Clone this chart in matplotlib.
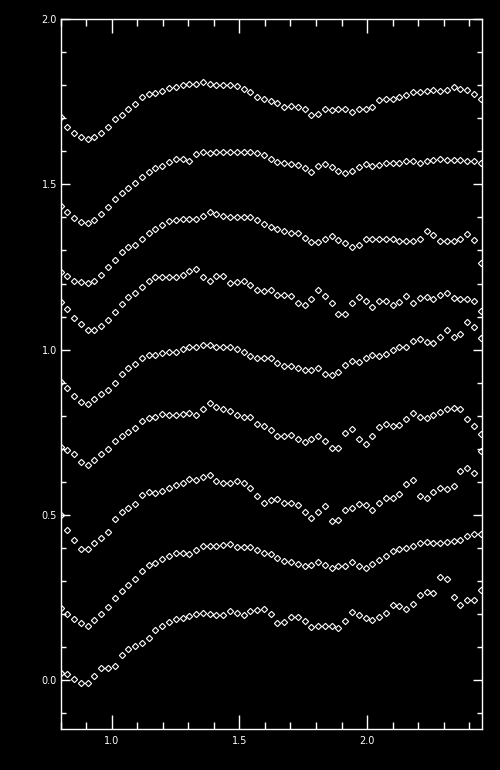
import matplotlib
matplotlib.use("Agg")
import matplotlib.pyplot as plt
from matplotlib.ticker import MultipleLocator
import numpy as np

# sampling grid, 63 points evenly spaced
wavelength = np.linspace(0.80, 2.445, 63)

spec1 = [0.020, 0.017, 0.002, -0.010, -0.010, 0.010, 0.034, 0.034, 0.042, 0.073, 0.091, 0.103, 0.111, 0.126,
         0.149, 0.163, 0.173, 0.182, 0.186, 0.194, 0.200, 0.202, 0.200, 0.196, 0.196, 0.207, 0.202, 0.197,
         0.207, 0.212, 0.214, 0.200, 0.172, 0.173, 0.190, 0.190, 0.176, 0.159, 0.163, 0.161, 0.161, 0.155,
         0.176, 0.206, 0.196, 0.187, 0.180, 0.190, 0.202, 0.227, 0.222, 0.214, 0.230, 0.257, 0.264, 0.262,
         0.311, 0.305, 0.250, 0.226, 0.242, 0.242, 0.272]
spec2 = [0.217, 0.200, 0.182, 0.170, 0.161, 0.180, 0.200, 0.220, 0.247, 0.267, 0.287, 0.305, 0.328, 0.348,
         0.353, 0.365, 0.375, 0.383, 0.383, 0.379, 0.392, 0.406, 0.406, 0.406, 0.408, 0.410, 0.402, 0.402,
         0.402, 0.392, 0.383, 0.381, 0.367, 0.359, 0.357, 0.351, 0.345, 0.348, 0.357, 0.348, 0.337, 0.343,
         0.343, 0.357, 0.345, 0.337, 0.351, 0.363, 0.373, 0.389, 0.396, 0.398, 0.404, 0.414, 0.416, 0.414,
         0.414, 0.418, 0.420, 0.422, 0.436, 0.442, 0.440]
spec3 = [0.500, 0.452, 0.424, 0.396, 0.396, 0.414, 0.429, 0.446, 0.486, 0.509, 0.520, 0.533, 0.560, 0.567,
         0.565, 0.570, 0.579, 0.590, 0.597, 0.609, 0.605, 0.615, 0.620, 0.603, 0.595, 0.595, 0.603, 0.597,
         0.580, 0.555, 0.535, 0.543, 0.547, 0.535, 0.535, 0.529, 0.509, 0.488, 0.509, 0.525, 0.480, 0.484,
         0.513, 0.519, 0.533, 0.529, 0.515, 0.535, 0.550, 0.549, 0.563, 0.593, 0.605, 0.557, 0.549, 0.567,
         0.581, 0.577, 0.585, 0.632, 0.641, 0.626, 0.691]
spec4 = [0.704, 0.696, 0.684, 0.660, 0.650, 0.666, 0.684, 0.700, 0.724, 0.739, 0.749, 0.762, 0.783, 0.792,
         0.797, 0.805, 0.803, 0.803, 0.805, 0.807, 0.803, 0.819, 0.837, 0.826, 0.819, 0.815, 0.801, 0.797,
         0.794, 0.774, 0.767, 0.756, 0.737, 0.738, 0.742, 0.728, 0.721, 0.730, 0.738, 0.724, 0.703, 0.703,
         0.747, 0.760, 0.728, 0.715, 0.738, 0.764, 0.774, 0.768, 0.772, 0.788, 0.808, 0.797, 0.792, 0.802,
         0.812, 0.820, 0.824, 0.820, 0.790, 0.768, 0.744]
spec5 = [0.903, 0.883, 0.858, 0.840, 0.834, 0.850, 0.866, 0.878, 0.900, 0.926, 0.943, 0.957, 0.974, 0.983,
         0.983, 0.989, 0.993, 0.993, 1.001, 1.007, 1.007, 1.013, 1.013, 1.009, 1.007, 1.007, 1.001, 0.991,
         0.979, 0.974, 0.973, 0.974, 0.959, 0.951, 0.949, 0.943, 0.938, 0.938, 0.943, 0.926, 0.924, 0.933,
         0.954, 0.965, 0.961, 0.974, 0.983, 0.979, 0.985, 0.997, 1.007, 1.009, 1.025, 1.031, 1.024, 1.021,
         1.039, 1.058, 1.037, 1.047, 1.084, 1.068, 1.034]
spec6 = [1.145, 1.124, 1.095, 1.078, 1.058, 1.058, 1.072, 1.090, 1.114, 1.138, 1.158, 1.170, 1.189, 1.209,
         1.219, 1.219, 1.219, 1.221, 1.227, 1.239, 1.243, 1.221, 1.209, 1.223, 1.223, 1.203, 1.205, 1.209,
         1.196, 1.179, 1.177, 1.181, 1.166, 1.164, 1.162, 1.142, 1.134, 1.154, 1.181, 1.162, 1.140, 1.108,
         1.108, 1.140, 1.160, 1.146, 1.130, 1.146, 1.148, 1.136, 1.144, 1.162, 1.142, 1.156, 1.160, 1.152,
         1.166, 1.172, 1.156, 1.152, 1.152, 1.146, 1.118]
spec7 = [1.236, 1.223, 1.209, 1.204, 1.201, 1.209, 1.225, 1.249, 1.271, 1.294, 1.312, 1.317, 1.334, 1.352,
         1.366, 1.376, 1.390, 1.392, 1.396, 1.396, 1.396, 1.405, 1.417, 1.410, 1.405, 1.402, 1.402, 1.402,
         1.400, 1.392, 1.380, 1.372, 1.364, 1.358, 1.354, 1.352, 1.337, 1.326, 1.326, 1.336, 1.344, 1.332,
         1.322, 1.310, 1.318, 1.334, 1.334, 1.334, 1.334, 1.334, 1.330, 1.330, 1.328, 1.336, 1.358, 1.346,
         1.330, 1.328, 1.330, 1.336, 1.350, 1.332, 1.263]
spec8 = [1.435, 1.418, 1.398, 1.386, 1.382, 1.392, 1.411, 1.431, 1.455, 1.475, 1.489, 1.504, 1.524, 1.539,
         1.549, 1.557, 1.567, 1.576, 1.578, 1.570, 1.592, 1.599, 1.594, 1.598, 1.599, 1.599, 1.599, 1.599,
         1.599, 1.596, 1.588, 1.576, 1.569, 1.564, 1.562, 1.558, 1.549, 1.539, 1.556, 1.562, 1.552, 1.540,
         1.534, 1.540, 1.554, 1.562, 1.556, 1.560, 1.564, 1.566, 1.566, 1.570, 1.570, 1.566, 1.570, 1.574,
         1.578, 1.574, 1.574, 1.574, 1.570, 1.570, 1.564]
spec9 = [1.703, 1.675, 1.657, 1.645, 1.639, 1.645, 1.657, 1.675, 1.697, 1.712, 1.728, 1.743, 1.764, 1.773,
         1.778, 1.784, 1.791, 1.794, 1.800, 1.806, 1.806, 1.810, 1.806, 1.801, 1.801, 1.801, 1.798, 1.788,
         1.780, 1.766, 1.760, 1.754, 1.746, 1.736, 1.738, 1.736, 1.728, 1.711, 1.715, 1.728, 1.725, 1.730,
         1.728, 1.721, 1.728, 1.730, 1.736, 1.756, 1.758, 1.758, 1.766, 1.771, 1.780, 1.780, 1.784, 1.786,
         1.782, 1.786, 1.794, 1.790, 1.786, 1.774, 1.760]

all_specs = [spec1, spec2, spec3, spec4, spec5, spec6, spec7, spec8, spec9]

xticks = [1.0, 1.5, 2.0]
xticklabels = ["1.0", "1.5", "2.0"]
yticks = [0.0, 0.5, 1.0, 1.5, 2.0]
yticklabels = ["0.0", "0.5", "1.0", "1.5", "2.0"]

fig = plt.figure(figsize=(5.0, 7.7), dpi=100, facecolor="black")
ax = fig.add_axes([0.121, 0.0532, 0.843, 0.9215])
ax.set_facecolor("black")

for spec in all_specs:
    ax.plot(wavelength, spec, linestyle="none", marker="D", markersize=3.2,
            markerfacecolor="none", markeredgecolor="white", markeredgewidth=0.8)

ax.set_xlim(0.8, 2.45)
ax.set_ylim(-0.15, 2.0)

for side in ax.spines.values():
    side.set_color("white")
    side.set_linewidth(1.0)

ax.set_xticks(xticks)
ax.set_xticklabels(xticklabels)
ax.set_yticks(yticks)
ax.set_yticklabels(yticklabels)
ax.xaxis.set_minor_locator(MultipleLocator(0.1))
ax.yaxis.set_minor_locator(MultipleLocator(0.1))

ax.tick_params(axis="x", which="major", direction="in", length=10, width=1.0,
               top=True, bottom=True, colors="white", labelsize=7, pad=5)
ax.tick_params(axis="x", which="minor", direction="in", length=5, width=1.0,
               top=True, bottom=True, colors="white")
ax.tick_params(axis="y", which="major", direction="in", length=6.3, width=1.0,
               left=True, right=True, colors="white", labelsize=7, pad=2.5)
ax.tick_params(axis="y", which="minor", direction="in", length=3.4, width=1.0,
               left=True, right=True, colors="white")

fig.savefig("out.png", dpi=100, facecolor="black")
